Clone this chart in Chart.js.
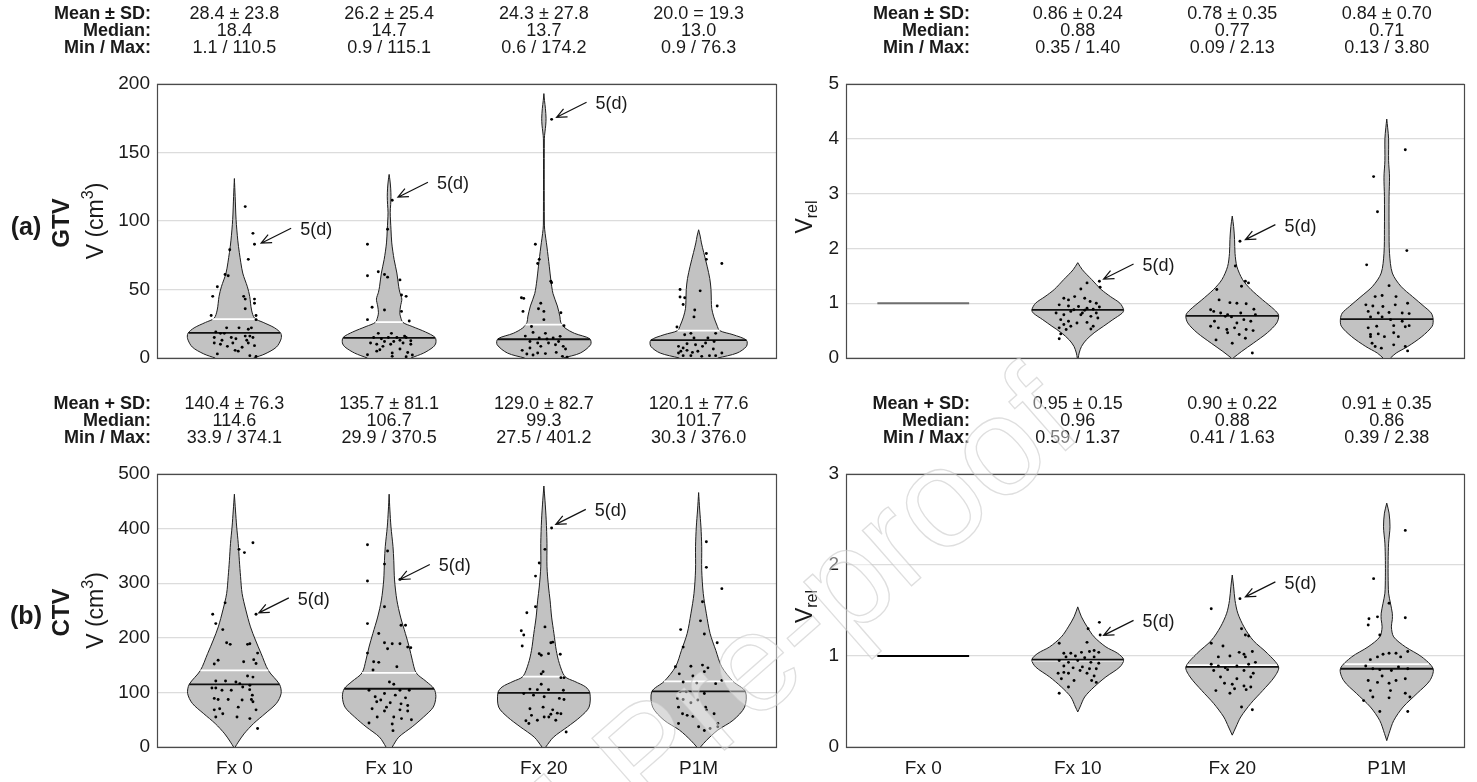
<!DOCTYPE html>
<html><head><meta charset="utf-8">
<script src="https://cdn.jsdelivr.net/npm/chart.js@4.4.0/dist/chart.umd.min.js"></script>
<style>
html,body{margin:0;padding:0;background:#fff;width:1477px;height:782px;overflow:hidden;}
canvas{position:absolute;left:0;top:0;}
</style></head><body>
<canvas id="c0" width="1477" height="782"></canvas>
<canvas id="c1" width="1477" height="782"></canvas>
<canvas id="c2" width="1477" height="782"></canvas>
<canvas id="c3" width="1477" height="782"></canvas>
<script>
// ---------------- DATA ----------------
const categories = ['Fx 0','Fx 10','Fx 20','P1M'];
const gtvTicks = [0,50,100,150,200];
const relGtvTicks = [0,1,2,3,4,5];
const ctvTicks = [0,100,200,300,400,500];
const relCtvTicks = [0,1,2,3];

// summary statistics (text rows above each panel)
const gtvMean = [28.4,26.2,24.3,20.0];
const gtvSD = [23.8,25.4,27.8,19.3];
const gtvMedian = [18.4,14.7,13.7,13.0];
const gtvMin = [1.1,0.9,0.6,0.9];
const gtvMax = [110.5,115.1,174.2,76.3];
const gtvPM = ['±','±','±','='];
const relGtvMean = [null,0.86,0.78,0.84];
const relGtvSD = [null,0.24,0.35,0.70];
const relGtvMedian = [null,0.88,0.77,0.71];
const relGtvMin = [null,0.35,0.09,0.13];
const relGtvMax = [null,1.40,2.13,3.80];
const ctvMean = [140.4,135.7,129.0,120.1];
const ctvSD = [76.3,81.1,82.7,77.6];
const ctvMedian = [114.6,106.7,99.3,101.7];
const ctvMin = [33.9,29.9,27.5,30.3];
const ctvMax = [374.1,370.5,401.2,376.0];
const relCtvMean = [null,0.95,0.90,0.91];
const relCtvSD = [null,0.15,0.22,0.35];
const relCtvMedian = [null,0.96,0.88,0.86];
const relCtvMin = [null,0.59,0.41,0.39];
const relCtvMax = [null,1.37,1.63,2.38];
const relFx0Value = 1;

// violin density profiles: [value, half-width in category units]
const gtvFx0Shape = [[0,.124],[3,.198],[8,.272],[14,.302],[18,.300],[22,.260],[26,.186],[29,.131],[35,.111],[45,.099],[52,.084],[62,.054],[77,.032],[86,.022],[101,.011],[118,.005],[131,0]];
const gtvFx10Shape = [[0,.141],[3.6,.223],[8,.285],[11,.302],[15,.297],[19,.235],[23,.149],[26,.089],[30,.074],[33,.069],[38,.074],[43,.082],[48,.069],[52,.062],[62,.050],[72,.032],[84,.017],[94,.012],[106,.007],[112,.010],[118,.012],[124,.010],[130,.005],[134,0]];
const gtvFx20Shape = [[0,.124],[3.6,.235],[9.7,.302],[14,.297],[18,.198],[22,.136],[26,.109],[30,.104],[38,.087],[47,.059],[57,.045],[67,.035],[81,.020],[94,.005],[100,.003],[160,.003],[165,.007],[170,.012],[175,.014],[182,.010],[188,.004],[193,0]];
const gtvP1MShape = [[0,.124],[3.6,.248],[8.5,.309],[13,.309],[17,.223],[20,.136],[24,.118],[30,.098],[36,.085],[42,.082],[50,.080],[58,.072],[67,.055],[77,.033],[84,.018],[89,.01],[93.6,0]];
const relGtvFx10Shape = [[0,.003],[.09,.009],[.21,.024],[.33,.055],[.46,.106],[.58,.167],[.70,.227],[.82,.288],[.88,.297],[1.0,.273],[1.12,.212],[1.25,.152],[1.43,.091],[1.61,.030],[1.74,0]];
const relGtvFx20Shape = [[0,.006],[.12,.061],[.27,.136],[.46,.227],[.64,.288],[.78,.3],[.88,.273],[1.06,.197],[1.25,.121],[1.43,.067],[1.67,.030],[1.91,.018],[2.16,.015],[2.40,.009],[2.59,0]];
const relGtvP1MShape = [[0,.024],[.09,.061],[.21,.136],[.39,.227],[.58,.294],[.71,.3],[.82,.288],[.94,.242],[1.12,.167],[1.31,.091],[1.55,.036],[1.91,.018],[2.34,.015],[2.95,.015],[3.3,.018],[3.6,.012],[4.0,.012],[4.2,.006],[4.36,0]];
const ctvFx0Shape = [[0,.005],[9,.025],[24,.062],[43,.124],[61,.198],[80,.272],[98,.302],[114.6,.292],[140,.22],[171,.173],[196,.136],[220,.104],[251,.074],[281,.050],[312,.040],[342,.032],[373,.025],[403,.015],[434,.007],[463,0]];
const ctvFx10Shape = [[0,.020],[18,.062],[37,.149],[55,.223],[73,.285],[92,.302],[106.7,.29],[120,.24],[135.7,.175],[159,.15],[183,.13],[208,.105],[238,.074],[269,.050],[306,.035],[342,.030],[367,.025],[403,.012],[434,.005],[463,0]];
const ctvFx20Shape = [[0,.012],[18,.062],[37,.153],[55,.235],[73,.292],[99.3,.297],[110,.27],[120,.2],[129,.136],[153,.10],[177,.08],[208,.065],[238,.05],[269,.04],[293,.03],[330,.02],[373,.02],[416,.015],[452,.007],[478,0]];
const ctvP1MShape = [[0,.012],[12,.05],[31,.124],[49,.223],[73,.297],[101.7,.302],[120.1,.223],[147,.149],[177,.111],[208,.074],[244,.050],[281,.030],[324,.020],[367,.020],[403,.015],[434,.007],[466,0]];
const relCtvFx10Shape = [[.385,0],[.44,.015],[.55,.045],[.66,.106],[.77,.182],[.88,.273],[.96,.297],[1.03,.258],[1.10,.182],[1.21,.106],[1.32,.061],[1.43,.024],[1.54,0]];
const relCtvFx20Shape = [[.13,0],[.22,.024],[.33,.055],[.48,.121],[.62,.197],[.77,.273],[.88,.3],[1.03,.227],[1.17,.136],[1.32,.076],[1.47,.036],[1.61,.018],[1.76,.009],[1.89,0]];
const relCtvP1MShape = [[.07,0],[.15,.015],[.29,.045],[.44,.106],[.59,.197],[.73,.279],[.86,.3],[.99,.227],[1.10,.121],[1.21,.045],[1.32,.030],[1.40,.036],[1.47,.036],[1.58,.024],[1.69,.012],[1.87,.009],[2.05,.009],[2.24,.012],[2.42,.021],[2.57,.015],[2.68,0]];

// individual patients: [horizontal jitter (category units), value]
const gtvFx0Pts = [[0.07,110.5],[0.12,91],[0.13,83],[0.09,72],[-0.03,79],[-0.06,61],[-0.04,60],[-0.11,52],[-0.14,45],[0.06,45],[0.07,43],[0.13,43],[0.13,40],[-0.15,31],[0.14,31],[0.14,28],[0.07,36],[-0.05,22],[0.03,22],[0.09,21],[0.11,22],[-0.12,19],[-0.09,18],[-0.13,15],[-0.08,13],[-0.02,15],[0.01,14],[0.07,16],[0.10,16],[0.12,15],[-0.13,11],[-0.09,10],[0.005,5.6],[0.025,5],[0.09,11],[0.13,9],[-0.11,3],[0.10,1.7],[-0.045,8.5],[0.05,7.8],[-0.065,18],[0.08,13],[-0.01,11],[0.14,1.1]];
const gtvFx10Pts = [[0.02,115.1],[-0.01,94],[-0.14,83],[-0.14,60],[-0.07,63],[-0.03,61],[-0.01,59],[0.07,57],[0.08,46],[0.11,45],[-0.11,37],[-0.03,35],[0.08,34],[-0.14,28],[0.13,27],[-0.10,15],[-0.05,14],[-0.005,15],[0.05,15],[0.10,16],[0.11,15],[-0.12,11],[-0.08,10],[0.01,10],[0.09,11],[0.14,10],[-0.14,2.4],[-0.08,5],[-0.06,6],[0.02,3.6],[0.07,6.6],[0.12,4],[0.15,2.2],[-0.03,12],[0.03,12],[0.07,13],[-0.04,8.5],[0.14,12.6],[0.015,18],[-0.07,18],[0.02,1.2],[0.11,0.9]];
const gtvFx20Pts = [[0.05,174.2],[-0.055,83],[-0.03,72],[-0.04,69],[0.045,56],[0.05,55],[-0.145,44],[-0.13,43.5],[-0.02,40],[-0.035,36],[0,34],[0.11,33],[-0.135,34],[0,28],[0.13,23.6],[-0.07,18.7],[-0.12,16],[-0.03,14.6],[0.02,13.9],[0.06,14.6],[0.105,15.8],[-0.09,12],[-0.04,11],[0.03,11],[0.075,9.7],[0.125,8.5],[0.14,6.6],[-0.14,5.6],[-0.11,2.9],[-0.07,2.2],[-0.04,3.6],[0.01,3.2],[0.08,4.1],[0.12,1.2],[0.15,0.6],[-0.02,8.5],[-0.09,7.3],[0.095,12],[0.01,18],[-0.08,23]];
const gtvP1MPts = [[0.05,76.3],[0.05,72],[0.15,69],[0.01,49],[-0.12,50],[-0.12,44.5],[-0.09,44],[-0.10,39],[0.12,38],[-0.025,35],[-0.03,30],[-0.14,22.6],[-0.05,18],[-0.09,17],[-0.03,14.6],[0.06,14.6],[0.045,11],[0.1,12],[-0.13,8.5],[-0.10,7.3],[-0.075,5.6],[-0.04,4.1],[-0.13,3.6],[-0.10,1.7],[-0.05,1.7],[-0.005,4.9],[0.02,1.2],[0.07,1.7],[0.11,1.7],[0.15,3.6],[0.025,8.5],[0.095,6.6],[-0.075,10.4],[0.11,18],[-0.115,4.9],[-0.02,9.7]];
const relGtvFx10Pts = [[0.14,1.40],[0.145,1.29],[0.06,1.37],[0.02,1.26],[-0.09,1.09],[-0.06,1.06],[-0.02,1.12],[0.045,1.09],[0.08,1.03],[0.12,1.0],[0.14,0.93],[-0.12,0.97],[-0.06,0.95],[0.005,0.94],[0.06,0.91],[0.10,0.89],[-0.14,0.82],[-0.09,0.79],[-0.045,0.85],[0.03,0.82],[0.085,0.76],[0.13,0.73],[-0.11,0.70],[-0.06,0.67],[-0.005,0.64],[0.06,0.65],[0.10,0.58],[-0.12,0.55],[-0.075,0.52],[0.085,0.53],[-0.11,0.44],[-0.12,0.35],[0.02,0.79],[-0.025,0.88],[0.045,0.87],[0.12,0.82],[-0.09,0.61],[-0.045,0.58]];
const relGtvFx20Pts = [[0.05,2.13],[0.02,1.68],[0.085,1.40],[0.105,1.37],[0.06,1.31],[-0.1,1.25],[-0.085,1.06],[-0.015,1.01],[0.03,1.0],[0.09,0.99],[-0.14,0.88],[-0.12,0.85],[-0.075,0.82],[-0.03,0.79],[0.055,0.82],[0.14,0.89],[0.15,0.79],[-0.045,0.76],[-0.005,0.75],[0.075,0.70],[0.12,0.67],[-0.14,0.58],[-0.09,0.55],[-0.035,0.52],[0.015,0.55],[0.09,0.52],[0.135,0.50],[-0.03,0.46],[0.045,0.43],[0.085,0.36],[-0.105,0.33],[0,0.27],[0.13,0.09],[0.03,0.64],[-0.115,0.67]];
const relGtvP1MPts = [[0.12,3.80],[-0.085,3.31],[-0.06,2.67],[0.13,1.96],[-0.13,1.70],[0.015,1.32],[-0.075,1.12],[-0.03,1.14],[0.06,1.12],[-0.135,0.97],[-0.09,0.95],[-0.025,0.94],[0.055,0.97],[0.135,1.0],[-0.12,0.85],[-0.055,0.82],[0.015,0.83],[0.10,0.82],[0.145,0.81],[-0.105,0.75],[-0.03,0.75],[0.025,0.70],[-0.12,0.55],[-0.065,0.58],[0.045,0.59],[0.12,0.57],[0.145,0.59],[-0.105,0.43],[-0.055,0.44],[-0.015,0.39],[0.045,0.46],[0.075,0.39],[-0.105,0.39],[-0.075,0.21],[-0.035,0.18],[0.045,0.24],[0.12,0.21],[0.135,0.13],[-0.095,0.27],[0.10,0.67]];
const ctvFx0Pts = [[0.12,374.1],[0.065,356],[0.03,362],[0.14,243],[-0.14,243],[-0.12,226],[-0.075,215],[-0.06,264],[-0.05,191],[-0.027,188],[0.085,188],[0.10,189],[0.15,172],[0.125,160],[0.14,153],[-0.105,159],[-0.13,152],[0.06,156],[0.085,130],[0.12,128],[-0.12,121],[-0.057,121],[0.01,119],[0.035,116],[0.10,113],[-0.145,108],[-0.12,108],[0.099,105],[-0.13,89],[-0.105,87],[-0.04,87],[0.05,86],[0.11,87],[0.12,83],[0.116,95],[0.025,73],[-0.095,70],[-0.13,68],[-0.12,55],[-0.075,61],[0.017,55],[0.10,52],[0.14,68],[0.15,33.9],[-0.02,104],[0.054,110],[-0.08,104]];
const ctvFx10Pts = [[-0.14,370.5],[-0.01,359],[-0.03,335],[-0.14,304],[0.07,307],[-0.03,257],[-0.14,226],[0.077,223],[0.106,223],[-0.067,208],[-0.03,191],[0.02,189],[0.07,189],[0.12,183],[-0.01,180],[0.14,182],[-0.14,172],[-0.1,156],[-0.067,155],[0.05,147],[-0.104,141],[0.002,119],[0.03,115],[-0.13,104],[0.07,104],[0.13,104],[-0.09,92],[-0.03,98],[0.04,95],[0.106,90],[-0.08,83],[0.007,81],[0.077,79],[0.12,76],[-0.11,70],[-0.03,66],[0.07,68],[0.12,66],[0.144,50],[0.08,52],[0.03,55],[-0.077,55],[-0.13,44],[0.02,42],[0.025,29.9],[-0.017,73],[-0.054,86]];
const ctvFx20Pts = [[0.05,401.2],[0.007,362],[-0.03,337],[-0.054,313],[-0.054,257],[-0.11,246],[-0.146,213],[-0.13,205],[0.007,220],[0.045,191],[0.057,192],[-0.14,185],[-0.03,171],[-0.017,168],[0.03,171],[0.106,170],[-0.005,138],[-0.017,134],[0.11,127],[0.13,127],[-0.017,115],[-0.09,106],[-0.042,105],[0.03,105],[0.126,104],[-0.13,98],[-0.067,95],[0.002,92],[0.1,89],[0.13,87],[-0.09,70],[-0.005,73],[0.057,68],[0.087,62],[0.11,61],[0.045,60],[0.032,55],[-0.116,48],[-0.097,43],[-0.042,49],[0.077,49],[0.144,27.5],[0.002,55],[-0.08,58]];
const ctvP1MPts = [[0.05,376.0],[0.05,329],[0.15,290],[0.025,266],[0.012,231],[-0.116,215],[0.037,207],[-0.1,183],[0.12,191],[-0.15,147],[-0.05,148],[0.025,150],[0.06,145],[-0.125,134],[-0.037,130],[0.037,138],[0.15,122],[-0.1,119],[-0.012,117],[0.11,116],[-0.08,101],[0.037,98],[-0.136,89],[-0.1,87],[-0.05,81],[0.045,73],[0.05,68],[-0.13,73],[-0.104,61],[-0.074,58],[-0.037,56],[-0.13,43],[0,37],[0.037,30.3],[0.074,34],[0.124,43],[0.1,61],[-0.005,86],[-0.12,101],[0.124,37]];
const relCtvFx10Pts = [[0.14,1.37],[0.145,1.23],[0.067,1.30],[0.06,1.15],[-0.12,1.14],[0.106,1.06],[-0.09,1.03],[-0.045,1.03],[0.024,1.04],[0.076,1.05],[0.136,1.04],[-0.076,0.99],[-0.015,1.0],[0.045,0.98],[0.106,0.99],[-0.12,0.95],[-0.06,0.93],[0,0.95],[0.085,0.93],[0.136,0.92],[-0.09,0.89],[-0.03,0.87],[0.03,0.88],[0.12,0.86],[-0.127,0.81],[-0.06,0.81],[0.06,0.81],[0.106,0.78],[-0.106,0.75],[-0.024,0.73],[0.09,0.73],[0.12,0.71],[-0.06,0.66],[-0.12,0.59],[0.015,0.84],[-0.09,0.82],[0.076,0.86]];
const relCtvFx20Pts = [[0.05,1.63],[-0.136,1.52],[0.06,1.30],[0.085,1.23],[0.106,1.22],[-0.136,1.14],[-0.06,1.11],[0.045,1.04],[0.076,1.02],[0.13,1.05],[-0.09,0.99],[-0.015,1.0],[0.085,0.99],[0.15,0.93],[-0.136,0.91],[-0.09,0.89],[-0.045,0.87],[0.03,0.89],[0.106,0.91],[-0.12,0.84],[-0.03,0.85],[0.076,0.84],[0.136,0.81],[-0.076,0.77],[0.03,0.75],[0.12,0.77],[-0.05,0.70],[0,0.69],[0.076,0.67],[0.12,0.66],[-0.106,0.62],[0.015,0.64],[0.09,0.63],[0.06,0.44],[0.13,0.41],[-0.015,0.59]];
const relCtvP1MPts = [[0.12,2.38],[-0.085,1.85],[-0.115,1.41],[-0.12,1.34],[-0.06,1.43],[0.12,1.42],[-0.045,1.23],[0.015,1.58],[0.136,1.05],[-0.106,0.96],[-0.06,0.99],[-0.024,1.02],[0.015,1.03],[0.06,1.03],[0.09,0.99],[-0.136,0.89],[-0.09,0.86],[-0.045,0.85],[0.03,0.84],[0.076,0.88],[0.136,0.86],[-0.12,0.73],[-0.06,0.71],[0.015,0.70],[0.06,0.73],[0.12,0.75],[-0.15,0.51],[-0.09,0.55],[0.015,0.54],[0.12,0.59],[0.15,0.55],[-0.045,0.39],[0.136,0.39],[0.024,0.62],[-0.106,0.62],[-0.03,0.78]];

// "5(d)" call-outs: [category index, jitter, value]
const gtvNotes = [[0,0.173,83.8],[1,0.057,117.4],[2,0.082,175.7]];
const relGtvNotes = [[1,0.167,1.44],[2,0.085,2.16]];
const ctvNotes = [[0,0.158,245.7],[1,0.069,306.8],[2,0.077,407.7]];
const relCtvNotes = [[1,0.167,1.227],[2,0.085,1.65]];

const watermarkText = 'Journal Pre-proof';

// ---------------- RENDERING ----------------
const FONT = "'Liberation Sans', Arial, Helvetica, sans-serif";
Chart.defaults.font.family = FONT;
Chart.defaults.color = '#1a1a1a';
const YW = 60, XH = 40;

function widthAt(profile, v){
  for (let i=0;i<profile.length-1;i++){
    const [y0,w0]=profile[i],[y1,w1]=profile[i+1];
    if (v>=y0 && v<=y1) return w0+(w1-w0)*(v-y0)/(y1-y0);
  }
  return 0;
}
function violinShape(c, profile){
  const left = profile.map(([y,w])=>({x:c-w,y}));
  const right = profile.slice().reverse().map(([y,w])=>({x:c+w,y}));
  return left.concat(right);
}

const panels = [
  {id:'c0', area:{l:157,r:776,t:84,b:358}, ticks:gtvTicks, showX:false, showMean:true,
   shapes:[gtvFx0Shape,gtvFx10Shape,gtvFx20Shape,gtvP1MShape],
   pts:[gtvFx0Pts,gtvFx10Pts,gtvFx20Pts,gtvP1MPts],
   mean:gtvMean, sd:gtvSD, median:gtvMedian, min:gtvMin, max:gtvMax, pm:gtvPM, digits:1,
   meanLabel:'Mean ± SD:', labelX:151, notes:gtvNotes, letter:'(a)', group:'GTV', kind:'abs'},
  {id:'c1', area:{l:846,r:1464,t:84,b:358}, ticks:relGtvTicks, showX:false, showMean:false,
   shapes:[null,relGtvFx10Shape,relGtvFx20Shape,relGtvP1MShape],
   pts:[null,relGtvFx10Pts,relGtvFx20Pts,relGtvP1MPts],
   mean:relGtvMean, sd:relGtvSD, median:relGtvMedian, min:relGtvMin, max:relGtvMax, pm:['±','±','±','±'], digits:2,
   meanLabel:'Mean ± SD:', labelX:970, notes:relGtvNotes, kind:'rel', baseColor:'#6e6e6e'},
  {id:'c2', area:{l:157,r:776,t:474,b:747}, ticks:ctvTicks, showX:true, showMean:true,
   shapes:[ctvFx0Shape,ctvFx10Shape,ctvFx20Shape,ctvP1MShape],
   pts:[ctvFx0Pts,ctvFx10Pts,ctvFx20Pts,ctvP1MPts],
   mean:ctvMean, sd:ctvSD, median:ctvMedian, min:ctvMin, max:ctvMax, pm:['±','±','±','±'], digits:1,
   meanLabel:'Mean + SD:', labelX:151, notes:ctvNotes, letter:'(b)', group:'CTV', kind:'abs'},
  {id:'c3', area:{l:846,r:1464,t:474,b:747}, ticks:relCtvTicks, showX:true, showMean:true,
   shapes:[null,relCtvFx10Shape,relCtvFx20Shape,relCtvP1MShape],
   pts:[null,relCtvFx10Pts,relCtvFx20Pts,relCtvP1MPts],
   mean:relCtvMean, sd:relCtvSD, median:relCtvMedian, min:relCtvMin, max:relCtvMax, pm:['±','±','±','±'], digits:2,
   meanLabel:'Mean + SD:', labelX:970, notes:relCtvNotes, kind:'rel', baseColor:'#000000', watermark:true}
];

function drawRich(ctx, pieces, cx, cy, rotate){
  ctx.save(); ctx.translate(cx,cy); if (rotate) ctx.rotate(-Math.PI/2);
  let total=0;
  pieces.forEach(p=>{ctx.font=p.font; p.w=ctx.measureText(p.t).width; total+=p.w;});
  let x=-total/2; ctx.textBaseline='middle'; ctx.textAlign='left'; ctx.fillStyle='#1a1a1a';
  pieces.forEach(p=>{ctx.font=p.font; ctx.fillText(p.t,x,p.dy); x+=p.w;});
  ctx.restore();
}

function makeDeco(p){
  return {
    id:'deco'+p.id,
    afterDatasetsDraw(chart){
      const {ctx, chartArea:a} = chart;
      ctx.save();
      ctx.strokeStyle='#4a4a4a'; ctx.lineWidth=1.2;
      ctx.strokeRect(Math.round(a.left)+0.5, Math.round(a.top)+0.5, Math.round(a.right-a.left), Math.round(a.bottom-a.top));
      ctx.restore();
    },
    afterDraw(chart){
      const {ctx, chartArea:a, scales:{x:xs, y:ys}} = chart;
      ctx.save();
      ctx.fillStyle='#1a1a1a';
      ctx.textBaseline='middle';
      const rows=[a.top-70, a.top-53.2, a.top-36.4];
      const labels=[p.meanLabel,'Median:','Min / Max:'];
      ctx.font='bold 18px '+FONT; ctx.textAlign='right';
      labels.forEach((t,r)=>ctx.fillText(t, p.labelX, rows[r]));
      ctx.font='18px '+FONT; ctx.textAlign='center';
      for (let i=0;i<4;i++){
        if (p.mean[i]==null) continue;
        const cx=xs.getPixelForValue(i+1), d=p.digits;
        ctx.fillText(p.mean[i].toFixed(d)+' '+p.pm[i]+' '+p.sd[i].toFixed(d), cx, rows[0]);
        ctx.fillText(p.median[i].toFixed(d), cx, rows[1]);
        ctx.fillText(p.min[i].toFixed(d)+' / '+p.max[i].toFixed(d), cx, rows[2]);
      }
      // y labels
      const my=(a.top+a.bottom)/2;
      if (p.kind==='abs'){
        ctx.font='bold 25px '+FONT; ctx.textAlign='center'; ctx.textBaseline='middle';
        ctx.fillText(p.letter, 26, my+7);
        drawRich(ctx,[{t:p.group,font:'bold 24px '+FONT,dy:0}],62,my+2,true);
        drawRich(ctx,[{t:'V (cm',font:'23px '+FONT,dy:0},{t:'3',font:'16px '+FONT,dy:-8},{t:')',font:'23px '+FONT,dy:0}],97,my,true);
      } else {
        drawRich(ctx,[{t:'V',font:'23px '+FONT,dy:0},{t:'rel',font:'16px '+FONT,dy:7}],806,my-4,true);
      }
      // call-outs
      ctx.strokeStyle='#111'; ctx.lineWidth=1.2; ctx.font='18px '+FONT; ctx.textAlign='left';
      p.notes.forEach(([ci,dx,v])=>{
        const tx=xs.getPixelForValue(ci+1+dx), ty=ys.getPixelForValue(v);
        const ex=tx+30, ey=ty-15;
        const ang=Math.atan2(ey-ty, ex-tx);
        ctx.beginPath(); ctx.moveTo(ex,ey); ctx.lineTo(tx,ty);
        ctx.moveTo(tx+11*Math.cos(ang+0.42), ty+11*Math.sin(ang+0.42)); ctx.lineTo(tx,ty);
        ctx.lineTo(tx+11*Math.cos(ang-0.42), ty+11*Math.sin(ang-0.42));
        ctx.stroke();
        ctx.fillText('5(d)', ex+9, ey+2);
      });
      // faint page watermark (drawn once, on the top-most canvas)
      if (p.watermark){
        ctx.translate(1060, 404);
        ctx.rotate(-41.3*Math.PI/180);
        ctx.font='140px '+FONT; ctx.textAlign='right'; ctx.textBaseline='middle';
        ctx.fillStyle='rgba(255,255,255,0.42)';
        ctx.fillText(watermarkText, 0, 0);
        ctx.strokeStyle='rgba(195,195,195,0.55)'; ctx.lineWidth=1.3;
        ctx.strokeText(watermarkText, 0, 0);
      }
      ctx.restore();
    }
  };
}

panels.forEach(p=>{
  const ds=[];
  p.shapes.forEach((prof,i)=>{
    const c=i+1;
    if (!prof){
      ds.push({data:[{x:c-0.297,y:relFx0Value},{x:c+0.297,y:relFx0Value}], showLine:true, borderColor:p.baseColor, borderWidth:2, pointRadius:0, order:1});
      return;
    }
    ds.push({data:violinShape(c,prof), showLine:true, fill:'shape', backgroundColor:'#c2c2c2', borderColor:'#1e1e1e', borderWidth:1, pointRadius:0, tension:0.3, order:3});
    if (p.showMean){
      const wm=widthAt(prof,p.mean[i]);
      ds.push({data:[{x:c-wm,y:p.mean[i]},{x:c+wm,y:p.mean[i]}], showLine:true, borderColor:'#ffffff', borderWidth:1.8, pointRadius:0, order:2});
    }
    const wd=widthAt(prof,p.median[i]);
    ds.push({data:[{x:c-wd,y:p.median[i]},{x:c+wd,y:p.median[i]}], showLine:true, borderColor:'#111111', borderWidth:1.8, pointRadius:0, order:1});
    ds.push({data:p.pts[i].map(([dx,y])=>({x:c+dx,y})), showLine:false, pointRadius:1.45, pointBackgroundColor:'#000', pointBorderWidth:0, pointBorderColor:'#000', order:0});
  });
  const ticks=p.ticks;
  new Chart(document.getElementById(p.id), {
    type:'scatter',
    data:{datasets:ds},
    options:{
      responsive:false, animation:false, devicePixelRatio:1,
      layout:{padding:{left:p.area.l-YW, right:1477-p.area.r, top:p.area.t, bottom:782-p.area.b-XH}},
      plugins:{legend:{display:false}, tooltip:{enabled:false}},
      scales:{
        x:{type:'linear', min:0.5, max:4.5,
           grid:{display:false, drawTicks:false}, border:{display:false},
           afterBuildTicks:s=>{s.ticks=[1,2,3,4].map(v=>({value:v}));},
           afterFit:s=>{s.height=XH;},
           ticks:{display:p.showX, padding:10, maxRotation:0, autoSkip:false, font:{size:19}, color:'#1a1a1a',
                  callback:v=>categories[v-1]}},
        y:{type:'linear', min:ticks[0], max:ticks[ticks.length-1],
           grid:{color:'#dcdcdc', lineWidth:1.2, drawTicks:false}, border:{display:false},
           afterBuildTicks:s=>{s.ticks=ticks.map(v=>({value:v}));},
           afterFit:s=>{s.width=YW;},
           ticks:{padding:7, font:{size:19}, color:'#1a1a1a', autoSkip:false}}
      }
    },
    plugins:[makeDeco(p)]
  });
});
</script>
</body></html>
